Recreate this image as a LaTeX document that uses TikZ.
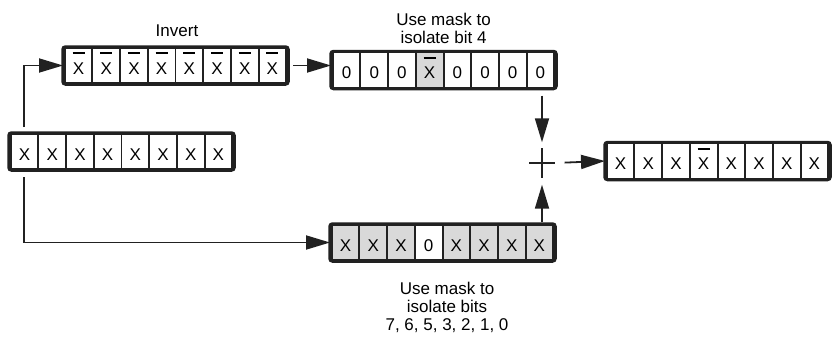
\documentclass[tikz,border=0pt]{standalone}
\usepackage{fontspec}
\setmainfont{Liberation Sans}
\usetikzlibrary{arrows.meta}

\definecolor{ink}{gray}{0.13}
\definecolor{shade}{gray}{0.85}

% X with a complement bar above it
\newcommand{\barX}{\ooalign{\hidewidth\smash{\raisebox{20pt}{\rule{12pt}{2pt}}}\hidewidth\cr X}}

\tikzset{
  regframe/.style={draw=ink, fill=ink, line width=3.5pt, rounded corners=2.5pt,
    minimum width=225pt, minimum height=37pt, inner sep=0pt, outer sep=0pt},
  bitcell/.style={fill=white, minimum width=25.7pt, minimum height=33.5pt, inner sep=0pt,
    text height=17pt, text depth=0pt, font=\fontsize{17}{17}\selectfont},
  link/.style={draw=ink, line width=1.8pt, -{Triangle[length=24pt,width=14pt]}},
  caption/.style={align=center, inner sep=0pt, font=\fontsize{17}{18}\selectfont},
  plusmark/.style={minimum width=25pt, minimum height=29pt, inner sep=0pt},
}

% eight cells inside register #1, given as symbol/fill pairs
\newcommand{\bitrow}[2]{%
  \foreach \sym/\tone [count=\k from 0] in {#2} {
    \pgfmathsetmacro\dx{-110.75+27.6875*(\k+0.5)}
    \node[bitcell, fill=\tone] (#1-\k) at ([xshift=\dx pt]#1.center) {\sym};
  }%
}

\begin{document}
\begin{tikzpicture}[x=1pt, y=-1pt]
  \fill[white] (0,0) rectangle (832,340);
  \useasboundingbox (0,0) rectangle (832,340);

  % registers
  \node[regframe] (rin)   at (121.5,151.5) {};
  \node[regframe] (rinv)  at (175.5,65.5) {};
  \node[regframe] (rmask) at (443.5,70) {};
  \node[regframe] (rkeep) at (442.5,242.5) {};
  \node[regframe] (rres)  at (717.5,161) {};

  \bitrow{rin}{X/white,X/white,X/white,X/white,X/white,X/white,X/white,X/white}
  \bitrow{rinv}{\barX/white,\barX/white,\barX/white,\barX/white,\barX/white,\barX/white,\barX/white,\barX/white}
  \bitrow{rmask}{0/white,0/white,0/white,\barX/shade,0/white,0/white,0/white,0/white}
  \bitrow{rkeep}{X/shade,X/shade,X/shade,0/white,X/shade,X/shade,X/shade,X/shade}
  \bitrow{rres}{X/white,X/white,X/white,\barX/white,X/white,X/white,X/white,X/white}

  % labels
  \node[caption] (lblinv)  at (177,31)  {Invert};
  \node[caption] (lblmask) at (443.5,28) {Use mask to\\isolate bit 4};
  \node[caption] (lblkeep) at (447,307) {Use mask to\\isolate bits\\7, 6, 5, 3, 2, 1, 0};

  % OR junction
  \node[plusmark] (plus) at (542,163) {};
  \draw[ink, line width=2.6pt] (plus.north) -- (plus.south) (plus.west) -- (plus.east);

  % connectors
  \coordinate (tapup)   at (24,127);
  \coordinate (tapdown) at (24,177);
  \draw[link] (tapup) |- (rinv.west);
  \draw[link] (tapdown) |- (rkeep.west);
  \draw[link, shorten <=5pt] (rinv.east) -- (rinv.east -| rmask.west);
  \draw[link, shorten <=7pt, shorten >=6pt] (plus |- rmask.south) -- (plus.north);
  \draw[link, shorten <=2pt, shorten >=7pt] (plus |- rkeep.north) -- (plus.south);
  \draw[link, shorten <=10pt] (plus.east) -- (rres.west);
\end{tikzpicture}
\end{document}
